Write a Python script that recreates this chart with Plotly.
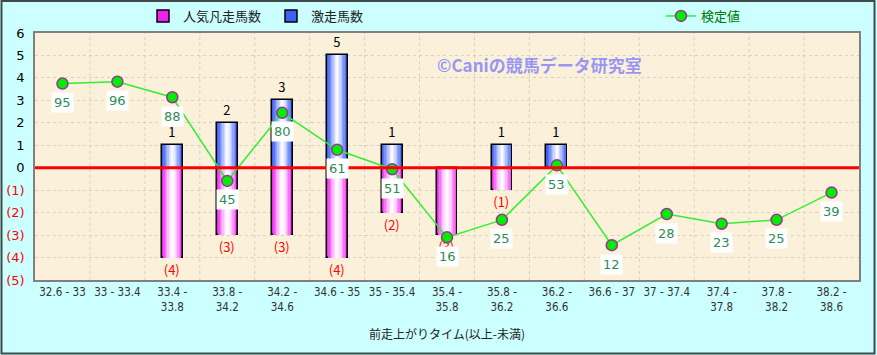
import plotly.graph_objects as go

categories = ["32.6 - 33", "33 - 33.4", "33.4 -<br>33.8", "33.8 -<br>34.2", "34.2 -<br>34.6",
              "34.6 - 35", "35 - 35.4", "35.4 -<br>35.8", "35.8 -<br>36.2", "36.2 -<br>36.6",
              "36.6 - 37", "37 - 37.4", "37.4 -<br>37.8", "37.8 -<br>38.2", "38.2 -<br>38.6"]
gekisou = [0, 0, 1, 2, 3, 5, 1, 0, 1, 1, 0, 0, 0, 0, 0]          # 激走馬数
ninki_bonsou = [0, 0, 4, 3, 3, 4, 2, 3, 1, 0, 0, 0, 0, 0, 0]     # 人気凡走馬数
kentei = [95, 96, 88, 45, 80, 61, 51, 16, 25, 53, 12, 28, 23, 25, 39]  # 検定値

y_tickvals = [6, 5, 4, 3, 2, 1, 0, -1, -2, -3, -4, -5]
y_ticktext = ["6", "5", "4", "3", "2", "1", "0",
              "<span style='color:#FF0000'>(1)</span>", "<span style='color:#FF0000'>(2)</span>",
              "<span style='color:#FF0000'>(3)</span>", "<span style='color:#FF0000'>(4)</span>",
              "<span style='color:#FF0000'>(5)</span>"]

JP = "Noto Sans CJK JP, sans-serif"
x = list(range(len(categories)))
BW = 0.38

fig = go.Figure()

neg = [-v if v else None for v in ninki_bonsou]
pos = [v if v else None for v in gekisou]
# stepped horizontal gradients (outer -> inner)
pink_layers = ["#EE22EE", "#F24CF2", "#F576F5", "#F89CF8", "#FABCFA", "#FCD8FC", "#FEEEFE", "#FFFAFF"]
blue_layers = ["#4060F4", "#5A76F6", "#7690F8", "#94A8FA", "#B2C0FB", "#CED8FD", "#E6ECFE", "#F8FAFF"]
fracs = [1.0, 0.86, 0.73, 0.6, 0.47, 0.34, 0.22, 0.1]

for i, (c, f) in enumerate(zip(pink_layers, fracs)):
    first = i == 0
    fig.add_trace(go.Bar(
        x=x, y=neg, width=BW * f, name="人気凡走馬数", showlegend=first, legend="legend",
        marker=dict(color=c, line=dict(color="#000000", width=1.5 if first else 0)),
        text=[f"({v})" if v else "" for v in ninki_bonsou] if first else None,
        textposition="outside" if first else None,
        textfont=dict(color="#FF0000", size=13, family=JP),
        cliponaxis=False, hoverinfo="skip"))
for i, (c, f) in enumerate(zip(blue_layers, fracs)):
    first = i == 0
    fig.add_trace(go.Bar(
        x=x, y=pos, width=BW * f, name="激走馬数", showlegend=first, legend="legend",
        marker=dict(color=c, line=dict(color="#000000", width=1.5 if first else 0)),
        text=[str(v) if v else "" for v in gekisou] if first else None,
        textposition="outside" if first else None,
        textfont=dict(color="#000000", size=13, family=JP),
        cliponaxis=False, hoverinfo="skip"))

fig.add_trace(go.Scatter(
    x=x, y=kentei, yaxis="y2", mode="lines+markers", name="検定値", legend="legend2",
    line=dict(color="#33EE33", width=1.5),
    marker=dict(size=11, color="#00EE00", line=dict(color="#993399", width=1.5)),
    cliponaxis=False))

for xi, v in zip(x, kentei):
    fig.add_annotation(x=xi, y=v, yref="y2", text=str(v), showarrow=False, yshift=-19,
                       bgcolor="#FFFFFF", borderpad=2,
                       font=dict(color="#2E8B57", size=13, family="DejaVu Sans, sans-serif"))

fig.add_annotation(xref="paper", yref="paper", x=0.485, y=0.93, xanchor="left",
                   text="<b>©Caniの競馬データ研究室</b>", showarrow=False,
                   font=dict(color="rgba(120,120,255,0.75)", size=17, family=JP))

# zero line
fig.add_shape(type="line", xref="paper", yref="y", x0=0, x1=1, y0=0, y1=0,
              line=dict(color="#FF0000", width=3))
# outer border
fig.add_shape(type="rect", xref="paper", yref="paper",
              x0=-33.5 / 824, x1=1 + 15.5 / 824, y0=-73.5 / 247, y1=1 + 32 / 247,
              line=dict(color="#3E4A4A", width=2), layer="above")

fig.update_layout(
    width=877, height=355,
    margin=dict(l=35, r=18, t=33, b=75, autoexpand=False),
    paper_bgcolor="#CCFFFF", plot_bgcolor="#FBF0D9",
    barmode="overlay", bargap=0,
    font=dict(family=JP, color="#000000"),
    showlegend=True,
    legend=dict(orientation="h", x=108 / 824, y=1 + 17 / 247, xanchor="left", yanchor="middle",
                bgcolor="rgba(0,0,0,0)", font=dict(size=13, color="#222222", family=JP),
                traceorder="normal", itemwidth=30, entrywidth=83),
    legend2=dict(orientation="h", x=626 / 824, y=1 + 17 / 247, xanchor="left", yanchor="middle",
                 bgcolor="rgba(0,0,0,0)", font=dict(size=13, color="#007700", family=JP),
                 itemwidth=30),
    xaxis=dict(tickmode="array", tickvals=x, ticktext=categories, range=[-0.5, 14.5],
               showgrid=False, showline=True, mirror=True, linecolor="#808080", linewidth=1.5,
               ticks="", tickfont=dict(size=11.5, color="#333333",
                                       family="Liberation Sans Narrow, DejaVu Sans Condensed, sans-serif"),
               title=dict(text="前走上がりタイム(以上-未満)", font=dict(size=12, color="#222222", family=JP),
                          standoff=18),
               zeroline=False, automargin=False),
    yaxis=dict(range=[-5, 6], tickvals=y_tickvals, ticktext=y_ticktext, showgrid=True,
               gridcolor="#D8D0C0", griddash="dot", gridwidth=1, zeroline=False,
               showline=True, mirror=True, linecolor="#808080", linewidth=1.5,
               tickfont=dict(size=13, color="#000000", family="DejaVu Sans, sans-serif"),
               ticks="", ticklabelstandoff=6, automargin=False),
    yaxis2=dict(range=[-5.9, 121.0], overlaying="y", side="right", visible=False),
)

# vertical category-boundary grid lines
for b in x[:-1]:
    fig.add_shape(type="line", xref="x", yref="paper", x0=b + 0.5, x1=b + 0.5, y0=0, y1=1,
                  line=dict(color="#D8D0C0", width=1, dash="dot"), layer="below")

fig.write_html("out.html", config={"displayModeBar": False},
               post_script="document.body.style.margin='0';document.body.style.overflow='hidden';")
